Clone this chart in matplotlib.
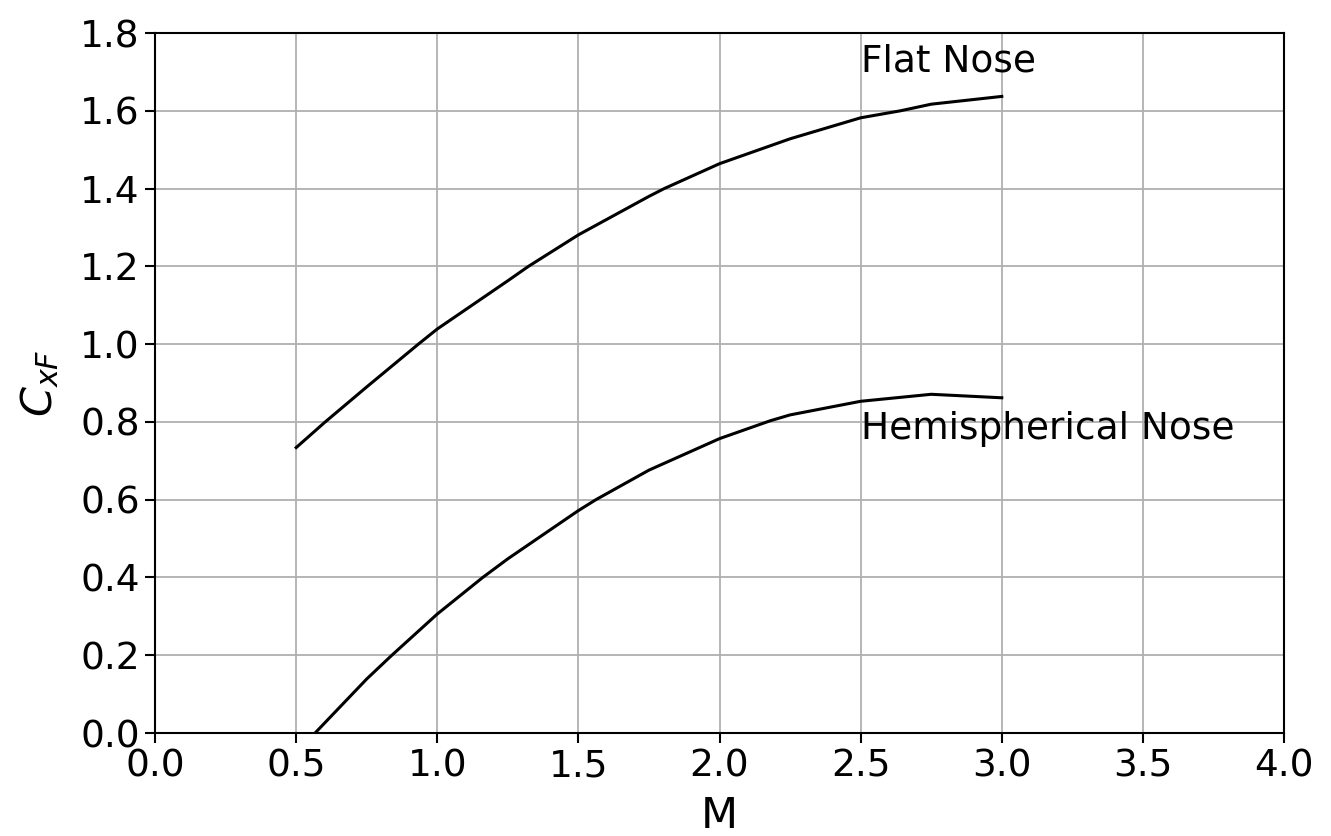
import matplotlib
matplotlib.use("Agg")
import matplotlib.pyplot as plt

# Values (Mach number vs. C_xF)
mach_flat = [0.5, 0.603, 0.75, 0.933, 1.0, 1.25, 1.323, 1.5, 1.75, 1.804,
             2.0, 2.25, 2.5, 2.641, 2.75, 3.0]
cxf_flat = [0.734, 0.800, 0.890, 1.000, 1.039, 1.163, 1.200, 1.281, 1.380, 1.400,
            1.464, 1.528, 1.582, 1.600, 1.617, 1.637]

mach_hemi = [0.567, 0.75, 0.839, 1.0, 1.161, 1.25, 1.5, 1.562, 1.75, 2.0,
             2.18, 2.25, 2.5, 2.75, 3.0]
cxf_hemi = [0.0, 0.139, 0.200, 0.306, 0.400, 0.448, 0.572, 0.600, 0.676, 0.757,
            0.803, 0.818, 0.853, 0.871, 0.862]

xticks = [0.0, 0.5, 1.0, 1.5, 2.0, 2.5, 3.0, 3.5, 4.0]
yticks = [0.0, 0.2, 0.4, 0.6, 0.8, 1.0, 1.2, 1.4, 1.6, 1.8]

fig = plt.figure(figsize=(13.31, 8.36), dpi=100)
ax = fig.add_axes([0.1165, 0.1232, 0.8482, 0.8373])

ax.plot(mach_flat, cxf_flat, color="black", lw=2.2, solid_joinstyle="round")
ax.plot(mach_hemi, cxf_hemi, color="black", lw=2.2, solid_joinstyle="round")

ax.text(2.5, 1.70, "Flat Nose", fontsize=27, ha="left", va="baseline")
ax.text(2.5, 0.756, "Hemispherical Nose", fontsize=27, ha="left", va="baseline")

ax.set_xlim(0, 4)
ax.set_ylim(0, 1.8)
ax.set_xticks(xticks)
ax.set_yticks(yticks)
ax.set_xticklabels([f"{v:.1f}" for v in xticks])
ax.set_yticklabels([f"{v:.1f}" for v in yticks])
ax.tick_params(labelsize=27, length=7, width=1.5, pad=4)
ax.grid(True, color="#b0b0b0", lw=1.3)
for s in ax.spines.values():
    s.set_linewidth(1.5)

ax.set_xlabel("M", fontsize=31, labelpad=8)
ax.set_ylabel(r"$C_{xF}$", fontsize=31, labelpad=14)

fig.savefig("out.png", dpi=100)
